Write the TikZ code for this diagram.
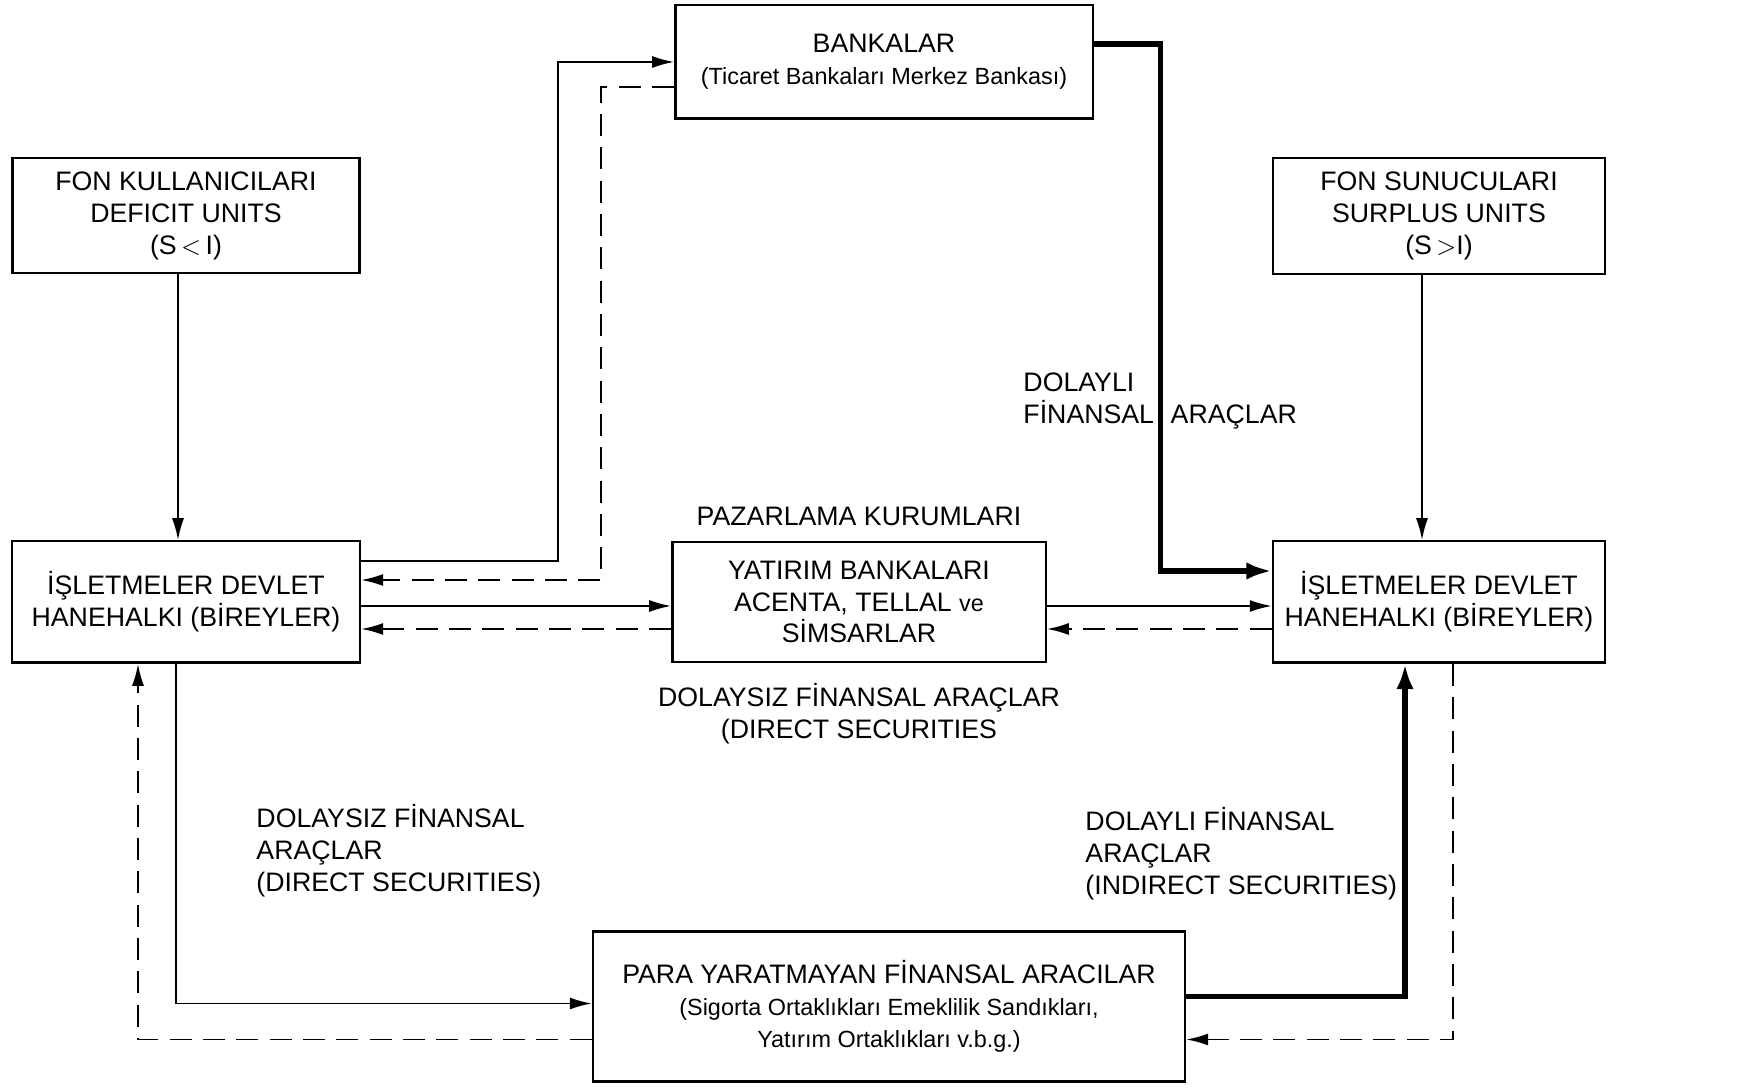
\documentclass[tikz,border=0pt]{standalone}
\usepackage{fontspec}
\setmainfont{Liberation Sans}
\usetikzlibrary{positioning,calc,arrows.meta}

\tikzset{
  box/.style={draw, line width=1pt, align=center, inner sep=0pt,
    font=\fontsize{11.4}{13.6}\selectfont},
  arr/.style={-{Latex[length=3.3mm,width=1.8mm]}, line width=0.8pt},
  bigarr/.style={-{Latex[length=3.8mm,width=2.6mm]}, line width=2.2pt},
  dashline/.style={arr, dash pattern=on 3.3mm off 1.7mm},
  lbl/.style={align=left, inner sep=0pt,
    font=\fontsize{11.4}{13.6}\selectfont}
}
\newcommand{\lc}{\fontsize{10}{13.6}\selectfont}

\begin{document}
\begin{tikzpicture}[x=0.015cm,y=-0.015cm]
\useasboundingbox (0,0) rectangle (1743,1088);

% Middle row
\node[box,
    minimum width=5.22cm, minimum height=1.82cm
] (isleft) at (186,602) {İŞLETMELER DEVLET\\HANEHALKI (BİREYLER)};

\node[box,
    minimum width=5.6cm, minimum height=1.8cm
] (yatirim) at (859,602) {YATIRIM BANKALARI\\ACENTA, TELLAL {\lc ve}\\SİMSARLAR};

\node[box,
    minimum width=4.98cm, minimum height=1.82cm
] (isright) at (1439,602) {İŞLETMELER DEVLET\\HANEHALKI (BİREYLER)};

% Fund users and suppliers
\node[box,
    minimum width=5.2cm, minimum height=1.72cm,
    above=3.99cm of isleft
] (fonkul) {FON KULLANICILARI\\DEFICIT UNITS\\(S\,$<$\,I)};

\node[box,
    minimum width=4.98cm, minimum height=1.74cm,
    above=3.97cm of isright
] (fonsun) {FON SUNUCULARI\\SURPLUS UNITS\\(S\,$>$I)};

% Banks
\node[box,
    minimum width=6.26cm, minimum height=1.7cm
] (bankalar) at (884,62) {BANKALAR\\{\lc (Ticaret Bankaları Merkez Bankası)}};

% Non-money intermediaries
\node[box,
    minimum width=8.88cm, minimum height=2.25cm
] (para) at (889,1006.5) {PARA YARATMAYAN FİNANSAL ARACILAR\\{\lc (Sigorta Ortaklıkları Emeklilik Sandıkları,}\\{\lc Yatırım Ortaklıkları v.b.g.)}};

% Labels
\node[lbl, above=2.2mm of yatirim] (pazar) {PAZARLAMA KURUMLARI};
\node[lbl, align=center, below=3mm of yatirim] (dolaysiz) {DOLAYSIZ FİNANSAL ARAÇLAR\\(DIRECT SECURITIES};
\node[lbl, anchor=west] (dolaylitop) at (1023,401) {DOLAYLI\\FİNANSAL\hspace{2.5mm}ARAÇLAR};
\node[lbl, anchor=west] (dolaysizleft) at (256,851) {DOLAYSIZ FİNANSAL\\ARAÇLAR\\(DIRECT SECURITIES)};
\node[lbl, anchor=west] (dolayliright) at (1085,854) {DOLAYLI FİNANSAL\\ARAÇLAR\\(INDIRECT SECURITIES)};

% Arrows
\draw[arr] ($(fonkul.south)+(-8,0)$) -- ($(isleft.north)+(-8,0)$);
\draw[arr] ($(fonsun.south)+(-17,0)$) -- ($(isright.north)+(-17,0)$);

% through the banks
\draw[arr] ($(isleft.east)+(0,-41)$) -| ($(bankalar.west)+(-116,0)$) -- (bankalar.west);
\draw[dashline] ($(bankalar.west)+(0,25)$) -| ($(isleft.east)+(240,-22)$) -- ($(isleft.east)+(0,-22)$);
\draw[bigarr] ($(bankalar.east)+(0,-18)$) -| ($(isright.west)+(-111,-31)$) -- ($(isright.west)+(0,-31)$);

% through the marketing institutions
\draw[arr] ($(isleft.east)+(0,4)$) -- ($(yatirim.west)+(0,4)$);
\draw[dashline] ($(yatirim.west)+(0,27)$) -- ($(isleft.east)+(0,27)$);
\draw[arr] ($(yatirim.east)+(0,4)$) -- ($(isright.west)+(0,4)$);
\draw[dashline] ($(isright.west)+(0,27)$) -- ($(yatirim.east)+(0,27)$);

% through the non-money intermediaries
\draw[arr] ($(isleft.south)+(-10,0)$) |- ($(para.west)+(0,-3)$);
\draw[dashline] ($(para.west)+(0,33)$) -| ($(isleft.south)+(-48,0)$);
\draw[bigarr] ($(para.east)+(0,-10)$) -| ($(isright.south)+(-34,0)$);
\draw[dashline] ($(isright.south)+(14,0)$) |- ($(para.east)+(0,33)$);

\end{tikzpicture}
\end{document}
